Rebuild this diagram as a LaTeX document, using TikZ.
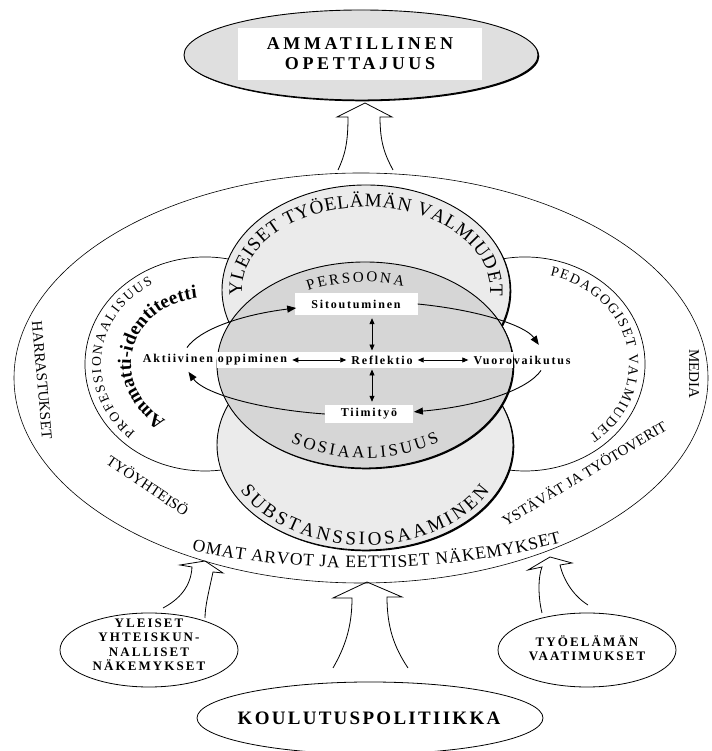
\documentclass[tikz,border=0pt]{standalone}
\usepackage{fontspec}
\setmainfont{Liberation Serif}
\usetikzlibrary{arrows.meta,shapes.geometric,decorations.text,shadows,calc}

\newcommand{\sz}[2]{\fontsize{#1}{#2}\selectfont}

\tikzset{
  ring/.style={ellipse, draw, inner sep=0pt, line width=0.6pt},
  zone/.style={ellipse, draw, inner sep=0pt, line width=0.9pt,
    drop shadow={shadow xshift=1.3pt, shadow yshift=-1.3pt, fill=black, opacity=1}},
  inflow/.style={ellipse, draw, inner sep=0pt, line width=0.8pt},
  inflowtxt/.style={align=center, inner sep=0pt, font=\bfseries\sz{13}{14.5}\addfontfeature{LetterSpace=16}},
  hollow/.style={draw, line width=0.8pt, line join=miter},
  word/.style={font=\bfseries\sz{12}{12}\addfontfeature{LetterSpace=15}, inner sep=2pt},
  wbox/.style={word, fill=white},
  dbl/.style={{Triangle[length=6pt,width=5pt]}-{Triangle[length=6pt,width=5pt]}, line width=0.8pt, shorten <=3pt, shorten >=3pt},
  cyc/.style={-{Triangle[length=9pt,width=7pt]}, line width=0.9pt},
  ringtext/.style={decorate, decoration={text along path, text align={fit to path}, text={#1}}},
  sidetext/.style={font=\sz{15}{15}, inner sep=0pt},
}

\begin{document}
\begin{tikzpicture}[x=1pt, y=1pt]
\useasboundingbox (0,0) rectangle (711,751);
% outer ring and the two side arcs
\node[ring, minimum width=694pt, minimum height=410pt] (outer) at (361,373) {};
\draw[line width=0.7pt] (205,387) ++(75:120 and 107) arc[start angle=75, end angle=285, x radius=120, y radius=107];
\draw[line width=0.7pt] (525,387) ++(105:120 and 107) arc[start angle=105, end angle=-105, x radius=120, y radius=107];
% three fields
\node[zone, fill=gray!16, minimum width=296pt, minimum height=210pt] (subst) at (365,306) {};
\node[zone, fill=gray!16, minimum width=288pt, minimum height=210pt] (yleiset) at (366,461) {};
\node[zone, fill=gray!32, minimum width=296pt, minimum height=206pt] (core) at (365,386) {};
\fill[white] (217,383) rectangle (513,399);
% curved titles
\path[ringtext={|\sz{19}{19}|YLEISET TYÖELÄMÄN VALMIUDET}] (366,461) ++(184:124 and 83) arc[start angle=184, end angle=-4, x radius=124, y radius=83];
\path[ringtext={|\sz{15}{15}|PERSOONA}] (365,386) ++(117:125 and 83) arc[start angle=117, end angle=72, x radius=125, y radius=83];
\path[ringtext={|\sz{17}{17}|SOSIAALISUUS}] (365,386) ++(236:133 and 93) arc[start angle=236, end angle=304, x radius=133, y radius=93];
\path[ringtext={|\sz{19}{19}|SUBSTANSSIOSAAMINEN}] (365,306) ++(207:140 and 100) arc[start angle=207, end angle=333, x radius=140, y radius=100];
\path[ringtext={|\sz{13.5}{13.5}|PROFESSIONAALISUUS}] (205,387) ++(228:104 and 92) arc[start angle=228, end angle=120, x radius=104, y radius=92];
\path[ringtext={|\bfseries\sz{19}{19}|Ammatti-identiteetti}] (205,387) ++(238:74 and 66) arc[start angle=238, end angle=96, x radius=74, y radius=66];
\path[ringtext={|\sz{14}{14}|PEDAGOGISET VALMIUDET}] (525,387) ++(76:104 and 91) arc[start angle=76, end angle=-52, x radius=104, y radius=91];
\path[ringtext={|\sz{17.5}{17.5}|OMAT ARVOT JA EETTISET NÄKEMYKSET}] (361,373) ++(245:400 and 190) arc[start angle=245, end angle=300, x radius=400, y radius=190];
% ring labels
\node[sidetext, rotate=-85] (harr) at (42,371) {HARRASTUKSET};
\node[sidetext, rotate=-90] (media) at (694,377) {MEDIA};
\node[sidetext, rotate=-34] (tyoy) at (148,266) {TYÖYHTEISÖ};
\node[sidetext, rotate=31] (ystav) at (584,278) {YSTÄVÄT JA TYÖTOVERIT};
% inner cycle
\node[wbox, minimum width=123pt, minimum height=22pt] (sit) at (356,447) {Sitoutuminen};
\node[word] (refl) at (382,391) {Reflektio};
\node[word] (akt) at (215,391) {Aktiivinen oppiminen};
\node[word] (vuo) at (522,391) {Vuorovaikutus};
\node[wbox, minimum width=88pt, minimum height=18pt] (tiim) at (369,337) {Tiimityö};
\coordinate (vx) at (372,0);
\draw[dbl] (sit.south -| vx) -- (refl.north -| vx);
\draw[dbl] (refl.south -| vx) -- (tiim.north -| vx);
\draw[dbl] (akt) -- (refl);
\draw[dbl] (refl) -- (vuo);
\coordinate (lc) at (364,392);
\draw[cyc] (lc) ++(168:181 and 55) arc[start angle=168, end angle=112, x radius=181, y radius=55];
\draw[cyc] (sit.east) arc[start angle=72, end angle=12, x radius=181, y radius=55];
\draw[cyc] (lc) ++(-12:181 and 55) arc[start angle=-12, end angle=-74, x radius=181, y radius=55];
\draw[cyc] (tiim.west) arc[start angle=-103, end angle=-168, x radius=181, y radius=55];
% goal
\node[zone, fill=gray!25, minimum width=354pt, minimum height=90pt] (goal) at (361,696) {};
\node[fill=white, minimum width=244pt, minimum height=52pt, align=center, font=\bfseries\sz{18}{20}\addfontfeature{LetterSpace=20}] (goaltxt) at (360,697) {AMMATILLINEN\\OPETTAJUUS};
% sources
\node[inflow, minimum width=178pt, minimum height=74pt] (yht) at (149,101) {};
\node[inflowtxt] (yhttxt) at (149,106) {YLEISET\\YHTEISKUN-\\NALLISET\\NÄKEMYKSET};
\node[inflow, minimum width=178pt, minimum height=74pt] (vaat) at (587,101) {};
\node[inflowtxt] (vaattxt) at (587,103) {TYÖELÄMÄN\\VAATIMUKSET};
\node[inflow, minimum width=346pt, minimum height=72pt] (koul) at (370,33) {};
\node[font=\bfseries\sz{19}{19}\addfontfeature{LetterSpace=12}, inner sep=0pt] (koultxt) at (369,33) {KOULUTUSPOLITIIKKA};
% hollow arrows
\coordinate (tipT) at (365,648);
\coordinate (tipM) at (367,169);
\coordinate (tipL) at (205,190);
\coordinate (tipR) at (550,194);
\begin{scope}[shift={(tipT)}]
\draw[hollow] (-27,-67) .. controls (-20,-52) and (-17,-40) .. (-17,-14) -- (-28,-14) -- (0,0) -- (27,-14) -- (15,-14) .. controls (15,-40) and (20,-52) .. (28,-67);
\end{scope}
\begin{scope}[shift={(tipM)}]
\draw[hollow] (-34,-86) .. controls (-22,-65) and (-15,-45) .. (-15,-16) -- (-34,-16) -- (0,0) -- (35,-15) -- (20,-15) .. controls (20,-45) and (27,-65) .. (41,-86);
\end{scope}
\begin{scope}[shift={(tipL)}]
\draw[hollow] (-42,-47) .. controls (-25,-38) and (-14,-25) .. (-13,-6) -- (-25,-4) -- (0,0) -- (18,-12) -- (8,-11) .. controls (4,-30) and (0,-45) .. (0,-57);
\end{scope}
\begin{scope}[shift={(tipR)}]
\draw[hollow] (-8,-56) .. controls (-12,-40) and (-12,-20) .. (-8,-10) -- (-22,-13) -- (0,0) -- (22,-6) -- (10,-8) .. controls (14,-25) and (25,-40) .. (38,-48);
\end{scope}
\end{tikzpicture}
\end{document}
